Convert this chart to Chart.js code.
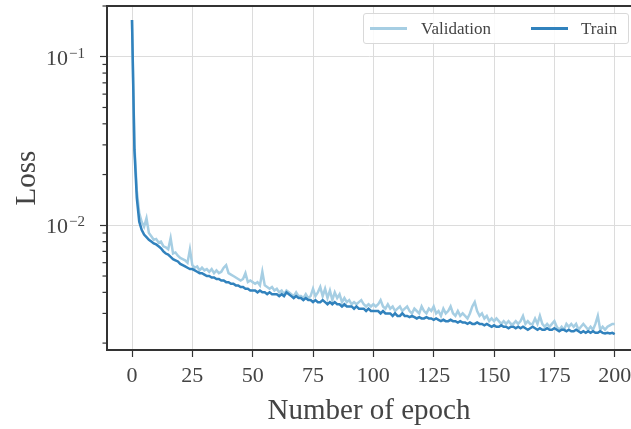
<!DOCTYPE html>
<html>
<head>
<meta charset="utf-8">
<script src="https://cdn.jsdelivr.net/npm/chart.js@4.4.0/dist/chart.umd.min.js"></script>
<style>
    html, body { margin: 0; padding: 0; background: #fff; }
    #wrap { position: relative; width: 631px; height: 429px; }
    #legend {
        position: absolute; left: 363px; top: 13px; width: 264px; height: 29px;
        border: 1px solid #d9d9d9; border-radius: 3px; background: rgba(255,255,255,0.85);
        font-family: 'Liberation Serif', serif; font-size: 17px; color: #444;
    }
    #legend .item { position: absolute; top: 0; height: 29px; line-height: 29px; }
    #legend .swatch { position: absolute; top: 13px; width: 37px; height: 3px; }
</style>
</head>
<body>
<div id="wrap">
    <canvas id="lossChart" width="631" height="429"></canvas>
    <div id="legend">
        <span class="swatch" style="left:6px;background:#a6cee3"></span>
        <span class="item" style="left:57px">Validation</span>
        <span class="swatch" style="left:167px;background:#3182bd"></span>
        <span class="item" style="left:217px">Train</span>
    </div>
</div>
<script>
// Datos (una entrada por época, 0..200)
const epochs = Array.from({length: 201}, (_, i) => i);

const trainLoss = [
    0.165, 0.028, 0.0145, 0.0105, 0.0094, 0.0088, 0.0085, 0.0082, 0.0080, 0.0078,
    0.0077, 0.0075, 0.0073, 0.0070, 0.0068, 0.0067, 0.0065, 0.0063, 0.0062, 0.0061,
    0.0059, 0.0058, 0.0057, 0.0056, 0.0055, 0.0055, 0.0054, 0.0053, 0.0052, 0.0052,
    0.0051, 0.0050, 0.0050, 0.0049, 0.0049, 0.0048, 0.0048, 0.0047, 0.0047, 0.0046,
    0.0046, 0.0045, 0.0045, 0.0044, 0.0044, 0.0043, 0.0043, 0.0042, 0.0042, 0.0041,
    0.0041, 0.0041, 0.0040, 0.0041, 0.0040, 0.0040, 0.0039, 0.0040, 0.0039, 0.0039,
    0.0039, 0.0038, 0.0039, 0.0038, 0.0040, 0.0039, 0.0038, 0.0037, 0.0038, 0.0037,
    0.0037, 0.0036, 0.0037, 0.0036, 0.0036, 0.0035, 0.0036, 0.0035, 0.0035, 0.0036,
    0.0035, 0.0034, 0.0035, 0.0034, 0.0035, 0.0034, 0.0034, 0.0033, 0.0034, 0.0033,
    0.0033, 0.0033, 0.0032, 0.0033, 0.0032, 0.0032, 0.0032, 0.0031, 0.0032, 0.0031,
    0.0031, 0.0031, 0.0031, 0.0030, 0.0031, 0.0030, 0.0030, 0.0030, 0.0029, 0.0030,
    0.0029, 0.0029, 0.0030, 0.0029, 0.0029, 0.00285, 0.0029, 0.00285, 0.0028, 0.00285,
    0.0028, 0.0028, 0.00285, 0.0028, 0.0028, 0.00275, 0.0028, 0.00275, 0.0027, 0.00275,
    0.0027, 0.0027, 0.00275, 0.0027, 0.0027, 0.00265, 0.0027, 0.00265, 0.00265, 0.0026,
    0.00265, 0.0026, 0.0026, 0.00265, 0.0026, 0.0026, 0.00255, 0.0026, 0.00255, 0.0025,
    0.00255, 0.0025, 0.0025, 0.00255, 0.0025, 0.0025, 0.00245, 0.0025, 0.0025, 0.00245,
    0.0025, 0.00245, 0.0025, 0.00245, 0.0024, 0.00245, 0.0025, 0.00245, 0.0024, 0.00245,
    0.0024, 0.0024, 0.00245, 0.0024, 0.0024, 0.00245, 0.0024, 0.00235, 0.0024, 0.0024,
    0.00235, 0.0024, 0.00235, 0.00235, 0.0024, 0.00235, 0.0023, 0.00235, 0.0023, 0.00235,
    0.0023, 0.00235, 0.0023, 0.0023, 0.00235, 0.0023, 0.00228, 0.0023, 0.00228, 0.0023,
    0.00226
];

const validationLoss = [
    0.165, 0.030, 0.0160, 0.0118, 0.0105, 0.0098, 0.0110, 0.0090, 0.0086, 0.0082,
    0.0083, 0.0079, 0.0080, 0.0075, 0.0074, 0.0072, 0.0084, 0.0068, 0.0069, 0.0066,
    0.0064, 0.0063, 0.0062, 0.0060, 0.0072, 0.0058, 0.0056, 0.0057, 0.0054, 0.0056,
    0.0054, 0.0055, 0.0053, 0.0055, 0.0052, 0.0054, 0.0052, 0.0053, 0.0056, 0.0058,
    0.0052, 0.0051, 0.0050, 0.0049, 0.0048, 0.0047, 0.0048, 0.0052, 0.0046, 0.0047,
    0.0046, 0.0045, 0.0046, 0.0044, 0.0053, 0.0044, 0.0043, 0.0042, 0.0043, 0.0041,
    0.0042, 0.0040, 0.0041, 0.0039, 0.0041, 0.0040, 0.0039, 0.0038, 0.0040, 0.0038,
    0.0038, 0.0037, 0.0039, 0.0037, 0.0038, 0.0042, 0.0038, 0.0040, 0.0043, 0.0038,
    0.0042, 0.0037, 0.0041, 0.0036, 0.0040, 0.0037, 0.0039, 0.0035, 0.0037, 0.0035,
    0.0036, 0.0034, 0.0035, 0.0034, 0.0035, 0.0036, 0.0034, 0.0033, 0.0034, 0.0033,
    0.0034, 0.0033, 0.0034, 0.0036, 0.0033, 0.0032, 0.0034, 0.0032, 0.0033, 0.0031,
    0.0032, 0.0033, 0.0031, 0.0032, 0.0033, 0.0031, 0.0030, 0.0032, 0.0031, 0.0030,
    0.0033, 0.0031, 0.0030, 0.0032, 0.0031, 0.0033, 0.0030, 0.0031, 0.0029, 0.0032,
    0.0030, 0.0031, 0.0033, 0.0030, 0.0029, 0.0031, 0.0029, 0.0030, 0.0029, 0.0028,
    0.0030, 0.0033, 0.0035, 0.0031, 0.0029, 0.0030, 0.0028, 0.0029, 0.0027, 0.0028,
    0.0027, 0.0028, 0.0027, 0.0026, 0.0027, 0.0026, 0.0027, 0.0026, 0.0026, 0.0027,
    0.0026, 0.0027, 0.0029, 0.0026, 0.0027, 0.0026, 0.0026, 0.0028, 0.0026, 0.0029,
    0.0026, 0.0025, 0.0026, 0.0025, 0.0026, 0.0027, 0.0025, 0.0024, 0.0025, 0.0024,
    0.0026, 0.0025, 0.0026, 0.0025, 0.0026, 0.0024, 0.0025, 0.0026, 0.0025, 0.0024,
    0.0025, 0.0024, 0.0026, 0.0029, 0.0024, 0.0025, 0.0024, 0.0025, 0.00255, 0.0026,
    0.0026
];

// Ticks de los ejes
const xTicks = [0, 25, 50, 75, 100, 125, 150, 175, 200];
const yTicks = [0.01, 0.1];
const yTickExponents = ['\u22122', '\u22121'];
const yMinorTicks = [0.002, 0.003, 0.004, 0.005, 0.006, 0.007, 0.008, 0.009,
                     0.02, 0.03, 0.04, 0.05, 0.06, 0.07, 0.08, 0.09, 0.2];

const colores = {
    validation: '#a6cee3',
    train: '#3182bd',
    grid: '#dcdcdc',
    axis: '#333333',
    texto: '#444444'
};
const fuente = "'Liberation Serif', serif";

// Borde superior, ticks menores y etiquetas 10^n del eje y
const ejesPlugin = {
    id: 'ejesPlugin',
    afterDraw(chart) {
        const {ctx, chartArea: a, scales: {y}} = chart;
        ctx.save();
        ctx.strokeStyle = colores.axis;
        ctx.lineWidth = 1.2;
        yMinorTicks.forEach(v => {
            const py = y.getPixelForValue(v);
            if (py < a.top || py > a.bottom) return;
            ctx.beginPath();
            ctx.moveTo(a.left - 4.5, py);
            ctx.lineTo(a.left, py);
            ctx.stroke();
        });
        ctx.lineWidth = 2;
        ctx.beginPath();
        ctx.moveTo(a.left, a.top);
        ctx.lineTo(a.right, a.top);
        ctx.stroke();

        ctx.fillStyle = colores.texto;
        ctx.textBaseline = 'alphabetic';
        yTicks.forEach((v, i) => {
            const py = y.getPixelForValue(v);
            ctx.font = '22px ' + fuente;
            ctx.textAlign = 'right';
            ctx.fillText('10', a.left - 39, py + 8);
            ctx.font = '15px ' + fuente;
            ctx.textAlign = 'left';
            ctx.fillText(yTickExponents[i], a.left - 38, py + 1);
        });
        ctx.restore();
    }
};

new Chart(document.getElementById('lossChart'), {
    type: 'line',
    data: {
        labels: epochs,
        datasets: [
            {
                label: 'Validation',
                data: epochs.map((e, i) => ({x: e, y: validationLoss[i]})),
                borderColor: colores.validation,
                borderWidth: 2.5,
                pointRadius: 0,
                order: 2
            },
            {
                label: 'Train',
                data: epochs.map((e, i) => ({x: e, y: trainLoss[i]})),
                borderColor: colores.train,
                borderWidth: 2.5,
                pointRadius: 0,
                order: 1
            }
        ]
    },
    options: {
        responsive: false,
        animation: false,
        layout: { padding: { top: 6, right: 0, left: 0, bottom: 0 } },
        plugins: { legend: { display: false }, tooltip: { enabled: false } },
        scales: {
            x: {
                type: 'linear',
                min: -10.36,
                max: 206.75,
                afterBuildTicks: s => { s.ticks = xTicks.map(v => ({value: v})); },
                afterFit: s => { s.height = 79; s.paddingLeft = 0; s.paddingRight = 0; },
                grid: { color: colores.grid, lineWidth: 1, tickColor: colores.axis, tickLength: 7, tickWidth: 1.2 },
                border: { display: true, color: colores.axis, width: 2 },
                ticks: { color: colores.texto, font: { family: fuente, size: 22 }, padding: 6, maxRotation: 0 },
                title: { display: true, text: 'Number of epoch', color: colores.texto,
                         font: { family: fuente, size: 29 }, padding: { top: 0, bottom: 0 } }
            },
            y: {
                type: 'logarithmic',
                min: 0.00182,
                max: 0.2,
                afterBuildTicks: s => { s.ticks = yTicks.map(v => ({value: v, major: true})); },
                afterFit: s => { s.width = 107; s.paddingTop = 0; s.paddingBottom = 0; },
                grid: { color: colores.grid, lineWidth: 1, tickColor: colores.axis, tickLength: 7, tickWidth: 1.2 },
                border: { display: true, color: colores.axis, width: 2 },
                ticks: { display: false },
                title: { display: true, text: 'Loss', color: colores.texto,
                         font: { family: fuente, size: 29 }, padding: { top: 10, bottom: 0 } }
            }
        }
    },
    plugins: [ejesPlugin]
});
</script>
</body>
</html>
